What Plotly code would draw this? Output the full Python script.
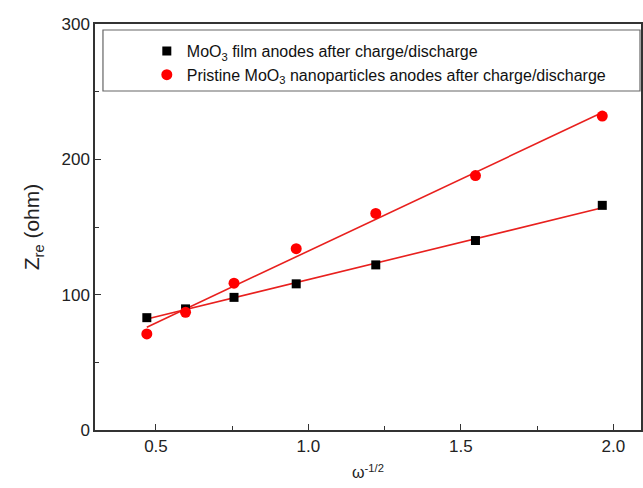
import numpy as np
import plotly.graph_objects as go

x_vals = [0.470, 0.597, 0.756, 0.960, 1.221, 1.548, 1.964]
film_vals = [83, 89.5, 98, 108, 122, 140, 166]
nano_vals = [71, 87, 108.5, 134, 160, 188, 232]
film_name = "MoO<sub>3</sub> film anodes after charge/discharge"
nano_name = "Pristine MoO<sub>3</sub> nanoparticles anodes after charge/discharge"
x_ticks = [0.5, 1.0, 1.5, 2.0]
y_ticks = [0, 100, 200, 300]

xs = np.array(x_vals)
fig = go.Figure()

for ys in (film_vals, nano_vals):
    k, b = np.polyfit(xs, np.array(ys), 1)
    xf = np.array([xs.min(), xs.max()])
    fig.add_trace(go.Scatter(x=xf, y=k * xf + b, mode="lines",
                             line=dict(color="#e8201e", width=1.6),
                             showlegend=False, hoverinfo="skip"))

fig.add_trace(go.Scatter(x=x_vals, y=film_vals, mode="markers", name=film_name,
                         marker=dict(symbol="square", size=9, color="black"),
                         legendgroup="a"))
fig.add_trace(go.Scatter(x=x_vals, y=nano_vals, mode="markers", name=nano_name,
                         marker=dict(symbol="circle", size=11, color="#ff0000"),
                         legendgroup="b"))

axis_common = dict(showline=True, linecolor="#333333", linewidth=1.5, mirror=True,
                   ticks="inside", ticklen=6, tickcolor="#333333", tickwidth=1.2,
                   showgrid=False, zeroline=False,
                   tickfont=dict(family="Liberation Sans, Arial", size=17, color="#222222"))

fig.update_xaxes(range=[0.30, 2.091], tickvals=x_ticks, ticktext=["0.5", "1.0", "1.5", "2.0"],
                 minor=dict(ticks="inside", ticklen=4, tickcolor="#333333", dtick=0.25, tick0=0),
                 title=dict(text="\u03c9<sup>-1/2</sup>", standoff=12,
                            font=dict(family="Liberation Sans, Arial", size=16, color="#222222")),
                 **axis_common)
fig.update_yaxes(range=[0, 300], tickvals=y_ticks,
                 minor=dict(ticks="inside", ticklen=4, tickcolor="#333333", dtick=50, tick0=0),
                 title=dict(text="Z<sub>re</sub> (ohm)", standoff=16,
                            font=dict(family="Liberation Sans, Arial", size=21, color="#222222")),
                 **axis_common)

# legend frame
fig.add_shape(type="rect", xref="paper", yref="paper",
              x0=(103 - 95) / 548, x1=(642 - 95) / 548,
              y0=(430 - 91) / 406, y1=(430 - 30) / 406,
              line=dict(color="#666666", width=1.2), fillcolor="rgba(0,0,0,0)")

fig.update_layout(
    width=643, height=488,
    margin=dict(l=95, r=0, t=24, b=58),
    paper_bgcolor="white", plot_bgcolor="white",
    legend=dict(x=(147 - 95) / 548, y=(430 - 34) / 406, xanchor="left", yanchor="top",
                bgcolor="rgba(0,0,0,0)", borderwidth=0, tracegroupgap=0,
                font=dict(family="Liberation Sans, Arial", size=16, color="#111111")),
)

fig.write_html("out.html")
